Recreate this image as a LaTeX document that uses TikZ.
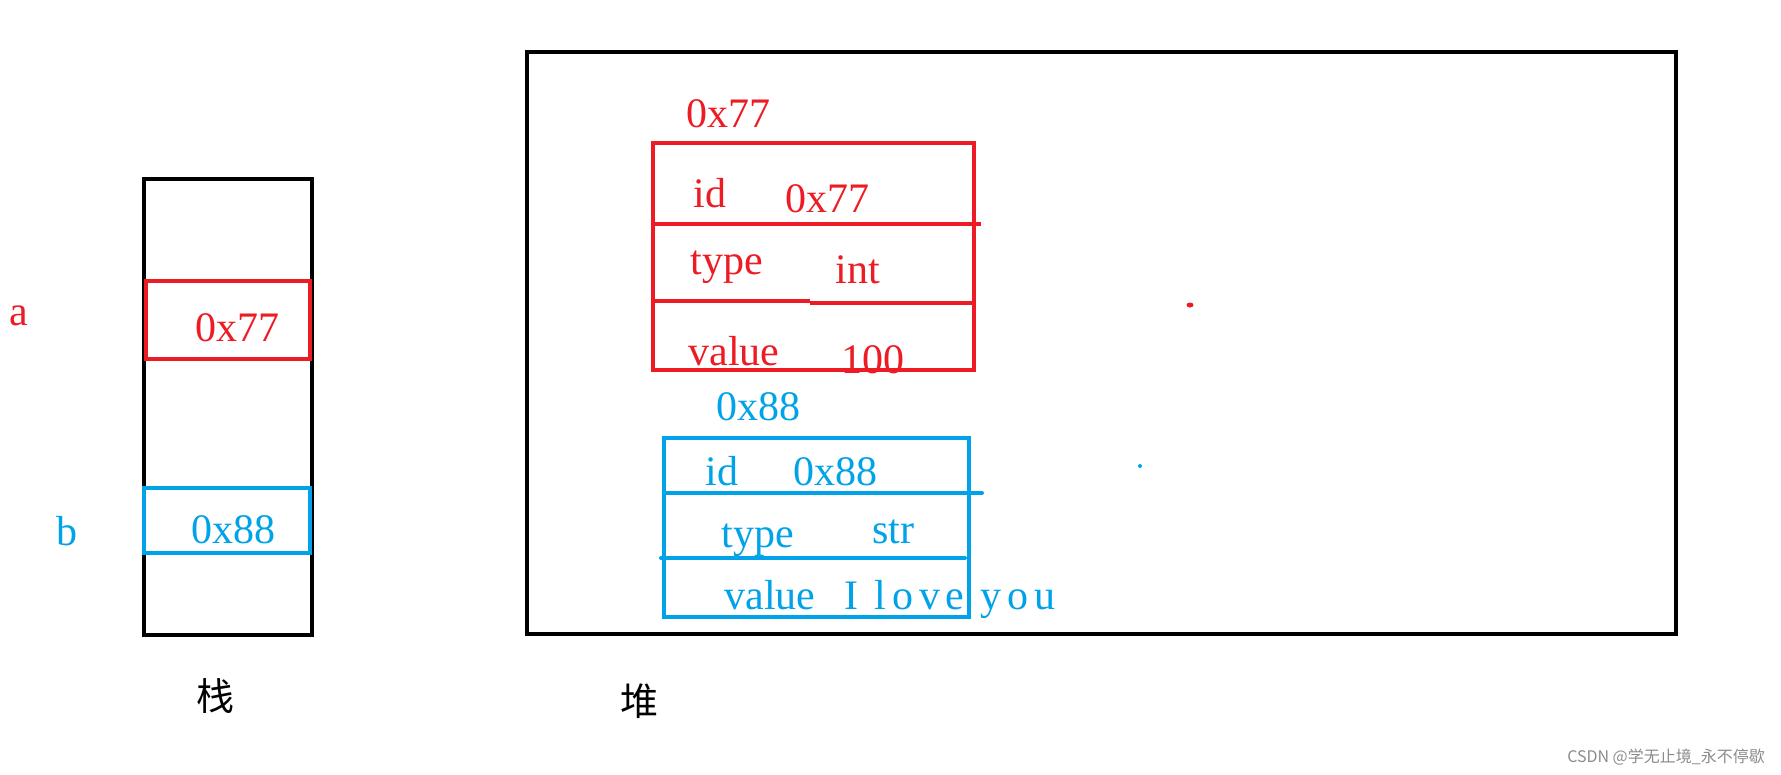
\documentclass[tikz,border=0pt]{standalone}
\usepackage{fontspec}
\setmainfont{Liberation Serif}
\newfontfamily\cjk{Noto Sans CJK SC}
\newfontfamily\spaced[LetterSpace=14]{Liberation Serif}
\definecolor{pred}{HTML}{ED1C24}
\definecolor{pblue}{HTML}{00A2E8}
\tikzset{
  lbl/.style={font=\fontsize{42}{48}\selectfont, inner sep=0pt, anchor=base},
  rl/.style={lbl, text=pred},
  bl/.style={lbl, text=pblue},
  blk/.style={draw=black, line width=4.5pt},
  redline/.style={draw=pred, line width=4pt},
  blueline/.style={draw=pblue, line width=4pt},
  cjklbl/.style={font=\cjk\fontsize{38}{44}\selectfont, inner sep=0pt},
}
\begin{document}
\begin{tikzpicture}[x=1pt,y=-1pt]
\path[use as bounding box, fill=white] (0,0) rectangle (1781,774);

% stack
\draw[blk] (144,179) rectangle (312,635);
\draw[redline] (146,281) rectangle (310,359);
\draw[blueline] (144,488) rectangle (310,553);
\node[rl] (sa) at (237,341) {0x77};
\node[rl] (la) at (19,325) {a};
\node[bl] (sb) at (233,543) {0x88};
\node[bl] (lb) at (67,545) {b};
\node[cjklbl] (zhan) at (215,696) {栈};

% heap
\draw[blk] (527,52) rectangle (1676,634);
\node[cjklbl] (dui) at (639,701) {堆};

% red object
\node[rl] (raddr) at (728,127) {0x77};
\node[rl] (rid) at (710,207) {id};
\node[rl] (ridv) at (827,212) {0x77};
\node[rl] (rtype) at (727,274) {type};
\node[rl] (rtypev) at (858,283) {int};
\node[rl] (rval) at (734,365) {value};
\node[rl] (rvalv) at (873,373) {100};
\draw[redline] (653,143) rectangle (974,370);
\draw[redline] (653,224) -- (981,224);
\draw[redline] (653,301) -- (810,301);
\draw[redline] (810,303) -- (974,303);

% blue object
\node[bl] (baddr) at (758,420) {0x88};
\node[bl] (bid) at (722,485) {id};
\node[bl] (bidv) at (835,485) {0x88};
\node[bl] (btype) at (758,547) {type};
\node[bl] (btypev) at (893,543) {str};
\node[bl] (bval) at (770,609) {value};
\node[bl, font=\spaced\fontsize{42}{48}\selectfont] (bvalv) at (950,609) {I love you};
\draw[blueline] (664,438) rectangle (969,617);
\draw[blueline, line cap=round] (664,493) -- (982,493);
\draw[blueline, line cap=round] (661,558) -- (965,558);

% stray dots
\fill[pred] (1190,305) ellipse (3.5pt and 2.5pt);
\fill[pblue] (1140,466) ellipse (2pt and 2pt);

% watermark
\node[font=\cjk\fontsize{16}{18}\selectfont, text=black!45, inner sep=0pt, anchor=base east] (wm) at (1765,762) {CSDN @学无止境\_永不停歇};
\end{tikzpicture}
\end{document}
